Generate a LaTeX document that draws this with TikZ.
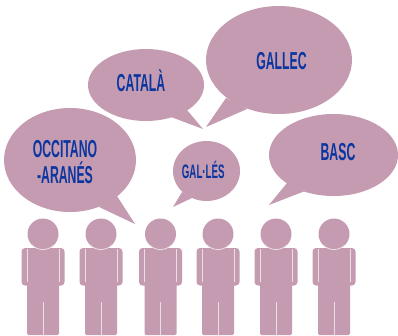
\documentclass[tikz,border=0pt]{standalone}
\usepackage{fontspec}
\setmainfont[FakeStretch=0.5]{Liberation Sans}
\usetikzlibrary{shapes.geometric}
\definecolor{mauve}{HTML}{C49BB0}
\definecolor{inkblue}{HTML}{0B36A0}
\definecolor{seam}{HTML}{EBDDE4}
\tikzset{
  x=1pt,y=-1pt,
  bubble/.style={ellipse,fill=mauve,inner sep=0pt,outer sep=0pt},
  tail/.style={fill=mauve},
  lab/.style={text=inkblue,font=\bfseries\fontsize{24.5}{26}\selectfont,align=center,inner sep=0pt,anchor=base},
  smalllab/.style={text=inkblue,font=\bfseries\fontsize{19.5}{20}\selectfont,align=center,inner sep=0pt,anchor=base},
  seamline/.style={draw=seam,line width=0.8pt},
  person/.pic={
    \fill[mauve,rounded corners=3.5pt] (-21.5,14) rectangle (21.5,51.5);
    \fill[mauve,rounded corners=1.5pt] (-16,14) -- (16,14) -- (16,101) -- (-16,101) -- cycle;
    \draw[seamline] (-16,15) -- (-16,48);
    \draw[seamline] (16,15) -- (16,48);
    \draw[seamline] (0,68) -- (0,101);
    \fill[mauve] (0,0) circle (15.5);
    \draw[seamline] (-11,11) arc[start angle=135,end angle=45,radius=15.5];
  }
}
\begin{document}
\begin{tikzpicture}
\useasboundingbox (0,0) rectangle (398,335);
% people
\foreach \px/\nm in {43/pa,101/pb,160.5/pc,218/pd,276/pe,334/pf}
  \pic (\nm) at (\px,234) {person};
% bubbles
\node[bubble,minimum width=132pt,minimum height=104pt] (occ) at (70,160) {};
\fill[tail] (117,196) -- (135,224) -- (99,207) -- cycle;
\node[bubble,minimum width=116pt,minimum height=72pt] (cat) at (146,85) {};
\fill[tail] (187,110) -- (203,129) -- (171,117) -- cycle;
\node[bubble,minimum width=146pt,minimum height=108pt] (gal) at (279,60) {};
\fill[tail] (226,98) -- (206,127) -- (247,109) -- cycle;
\node[bubble,minimum width=129pt,minimum height=82pt] (bas) at (333.5,155) {};
\fill[tail] (287,183) -- (269,205) -- (305,191) -- cycle;
\node[bubble,minimum width=67pt,minimum height=60pt] (gls) at (206.5,171) {};
\fill[tail] (182,192) -- (173,207) -- (192,198) -- cycle;
% labels
\node[lab] (t1) at (65,157.5) {OCCITANO};
\node[lab] (t2) at (65,183.5) {-ARANÉS};
\node[lab] (t3) at (141,91) {CATALÀ};
\node[lab] (t4) at (281.5,69.5) {GALLEC};
\node[lab] (t5) at (338,160) {BASC};
\node[smalllab] (t6) at (203.3,178) {GAL·LÉS};
\end{tikzpicture}
\end{document}
